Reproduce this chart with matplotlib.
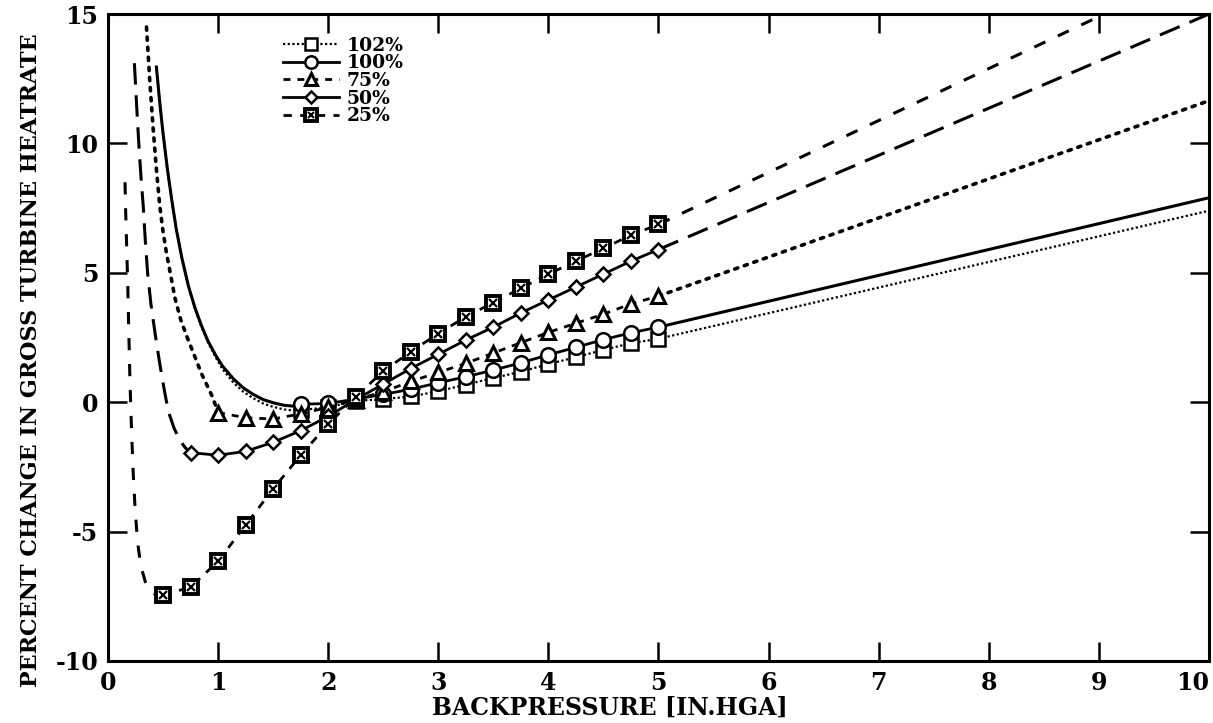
"""
Percent change in gross turbine heatrate vs. backpressure, for five load levels.
Markers = tabulated points, lines = fitted curves running past them.
"""

import matplotlib

matplotlib.use("Agg")
import matplotlib.pyplot as plt
from matplotlib.lines import Line2D

plt.rcParams["font.family"] = ["DejaVu Serif"]
plt.rcParams["font.weight"] = "bold"
plt.rcParams["axes.unicode_minus"] = False

# ---- data ----
# marker backpressure grid, in. HgA
BP = [0.5, 0.75, 1.0, 1.25, 1.5, 1.75, 2.0, 2.25, 2.5, 2.75, 3.0,
      3.25, 3.5, 3.75, 4.0, 4.25, 4.5, 4.75, 5.0]

# marker values (% change); each series starts later on the BP grid
HR_102 = [-0.3, -0.2, 0.05, 0.12, 0.22, 0.42, 0.68, 0.93, 1.18, 1.47, 1.74, 2.02, 2.28, 2.45]
HR_100 = [-0.08, -0.05, 0.12, 0.3, 0.5, 0.75, 0.98, 1.24, 1.52, 1.83, 2.12, 2.42, 2.68, 2.9]
HR_75 = [-0.4, -0.6, -0.65, -0.45, -0.2, 0.1, 0.4, 0.8, 1.15, 1.5, 1.9, 2.3, 2.7, 3.05, 3.4,
         3.8, 4.1]
HR_50 = [-1.95, -2.05, -1.9, -1.55, -1.1, -0.55, 0.1, 0.7, 1.3, 1.85, 2.4, 2.9, 3.45, 3.95,
         4.45, 4.95, 5.45, 5.9]
HR_25 = [-7.45, -7.15, -6.15, -4.75, -3.35, -2.05, -0.85, 0.2, 1.2, 1.95, 2.65, 3.3, 3.85, 4.4,
         4.95, 5.45, 5.95, 6.45, 6.87]

# low-backpressure curve segments (run into the first marker)
LO_X_102 = [0.44, 0.47, 0.5, 0.54, 0.58, 0.62, 0.67, 0.73, 0.79, 0.85, 0.91, 0.98, 1.04,
            1.14, 1.23, 1.32, 1.41, 1.5, 1.6, 1.68, 1.75]
LO_Y_102 = [12.95, 11.6, 10.4, 9.0, 7.8, 6.7, 5.6, 4.5, 3.6, 2.9, 2.3, 1.72, 1.28,
            0.75, 0.4, 0.15, -0.05, -0.18, -0.28, -0.32, -0.3]
LO_X_100 = [0.44, 0.47, 0.5, 0.54, 0.58, 0.62, 0.67, 0.73, 0.79, 0.85, 0.91, 0.98, 1.04,
            1.14, 1.23, 1.32, 1.41, 1.5, 1.6, 1.68, 1.75]
LO_Y_100 = [12.95, 11.6, 10.4, 9.0, 7.8, 6.7, 5.6, 4.5, 3.65, 2.95, 2.35, 1.8, 1.4,
            0.9, 0.55, 0.3, 0.1, -0.02, -0.12, -0.15, -0.08]
LO_X_75 = [0.35, 0.38, 0.41, 0.44, 0.47, 0.5, 0.53, 0.57, 0.61, 0.66, 0.72, 0.79, 0.85,
           0.9, 0.95, 1.0]
LO_Y_75 = [14.5, 12.4, 10.6, 9.0, 7.6, 6.6, 5.8, 4.9, 4.0, 3.2, 2.5, 1.75, 1.1,
           0.65, 0.2, -0.4]
LO_X_50 = [0.24, 0.26, 0.28, 0.3, 0.32, 0.34, 0.36, 0.39, 0.43, 0.47, 0.5, 0.53, 0.56,
           0.6, 0.65, 0.7, 0.75]
LO_Y_50 = [13.1, 11.5, 10.0, 8.7, 7.6, 6.2, 5.0, 3.8, 2.6, 1.5, 0.75, 0.05, -0.5,
           -1.0, -1.45, -1.75, -1.95]
LO_X_25 = [0.155, 0.16, 0.17, 0.18, 0.19, 0.2, 0.215, 0.23, 0.245, 0.26, 0.275, 0.29,
           0.31, 0.34, 0.38, 0.44, 0.5]
LO_Y_25 = [8.5, 7.5, 6.0, 4.5, 2.6, 0.8, -1.2, -2.8, -4.0, -4.9, -5.6, -6.05,
           -6.5, -6.95, -7.3, -7.45, -7.45]

# high-backpressure extensions (from last marker)
HI_X_102, HI_Y_102 = [5.0, 10.0], [2.45, 7.4]
HI_X_100, HI_Y_100 = [5.0, 10.0], [2.9, 7.9]
HI_X_75, HI_Y_75 = [5.0, 10.0], [4.1, 11.65]
HI_X_50, HI_Y_50 = [5.0, 10.0], [5.9, 15.0]
HI_X_25, HI_Y_25 = [5.0, 9.05], [6.87, 15.0]

LABELS = ["102%", "100%", "75%", "50%", "25%"]

# ---- styles ----
curve_style = {
    "102%": dict(lw=1.6, dashes=(1, 1.1)),
    "100%": dict(lw=2.2, ls="-"),
    "75%": dict(lw=2.6, dashes=(0.9, 1.9), dash_capstyle="round"),
    "50%": dict(lw=2.2, dashes=(7, 3.5)),
    "25%": dict(lw=2.2, dashes=(4, 4.5)),
}
mark_line = {
    "102%": dict(lw=1.6, dashes=(1, 1.1)),
    "100%": dict(lw=2.0, ls="-"),
    "75%": dict(lw=2.0, dashes=(2.5, 2.5)),
    "50%": dict(lw=2.0, ls="-"),
    "25%": dict(lw=2.0, dashes=(3, 3)),
}
mark_style = {
    "102%": dict(marker="s", ms=10, mew=1.8),
    "100%": dict(marker="o", ms=10.5, mew=1.8),
    "75%": dict(marker="^", ms=10.5, mew=2.2),
    "50%": dict(marker="D", ms=7.5, mew=1.8),
    "25%": dict(marker="s", ms=10.5, mew=2.8),
}

series = {
    "102%": (LO_X_102, LO_Y_102, BP[5:], HR_102, HI_X_102, HI_Y_102),
    "100%": (LO_X_100, LO_Y_100, BP[5:], HR_100, HI_X_100, HI_Y_100),
    "75%": (LO_X_75, LO_Y_75, BP[2:], HR_75, HI_X_75, HI_Y_75),
    "50%": (LO_X_50, LO_Y_50, BP[1:], HR_50, HI_X_50, HI_Y_50),
    "25%": (LO_X_25, LO_Y_25, BP, HR_25, HI_X_25, HI_Y_25),
}

fig = plt.figure(figsize=(12.13, 7.23), dpi=100)
ax = fig.add_axes([0.089, 0.0858, 0.9077, 0.8948])

handles = []
for label in LABELS:
    lx, ly, mx, my, hx, hy = series[label]
    ax.plot(lx, ly, color="k", zorder=2, **curve_style[label])
    ax.plot(hx, hy, color="k", zorder=2, **curve_style[label])
    ax.plot(mx, my, color="k", mfc="white", mec="k", zorder=3,
            **mark_line[label], **mark_style[label])
    # legend keys a bit smaller than plotted markers
    key = dict(mark_style[label], ms=mark_style[label]["ms"] * 0.85)
    h = Line2D([], [], color="k", mfc="white", mec="k", **mark_line[label], **key)
    if label == "25%":
        ax.plot(mx, my, ls="none", marker="x", ms=6, mew=1.6, color="k", zorder=4)
        h = (h, Line2D([], [], ls="none", marker="x", ms=5, mew=1.5, color="k"))
    handles.append(h)

ax.set_xlim(0, 10)
ax.set_ylim(-10, 15)
ax.set_xticks(range(0, 11))
ax.set_yticks([-10, -5, 0, 5, 10, 15])
ax.tick_params(direction="in", length=14, width=1.8, top=True, right=True,
               labelsize=17, pad=7)
ax.get_xticklabels()[-1].set_horizontalalignment("right")
for s in ax.spines.values():
    s.set_linewidth(2.2)

ax.set_xlabel("BACKPRESSURE [IN.HGA]", fontsize=17, fontweight="bold", labelpad=1)
ax.xaxis.label.set_x(0.456)
ax.set_ylabel("PERCENT CHANGE IN GROSS TURBINE HEATRATE", fontsize=16,
              fontweight="bold", labelpad=10)
ax.yaxis.label.set_y(0.465)

ax.legend(handles, LABELS, loc="upper left", bbox_to_anchor=(0.159, 0.965),
          frameon=False, handlelength=3.0, handletextpad=0.4,
          labelspacing=-0.02, borderpad=0, borderaxespad=0,
          prop={"weight": "bold", "size": 13.5})

fig.savefig("out.png", dpi=100)
